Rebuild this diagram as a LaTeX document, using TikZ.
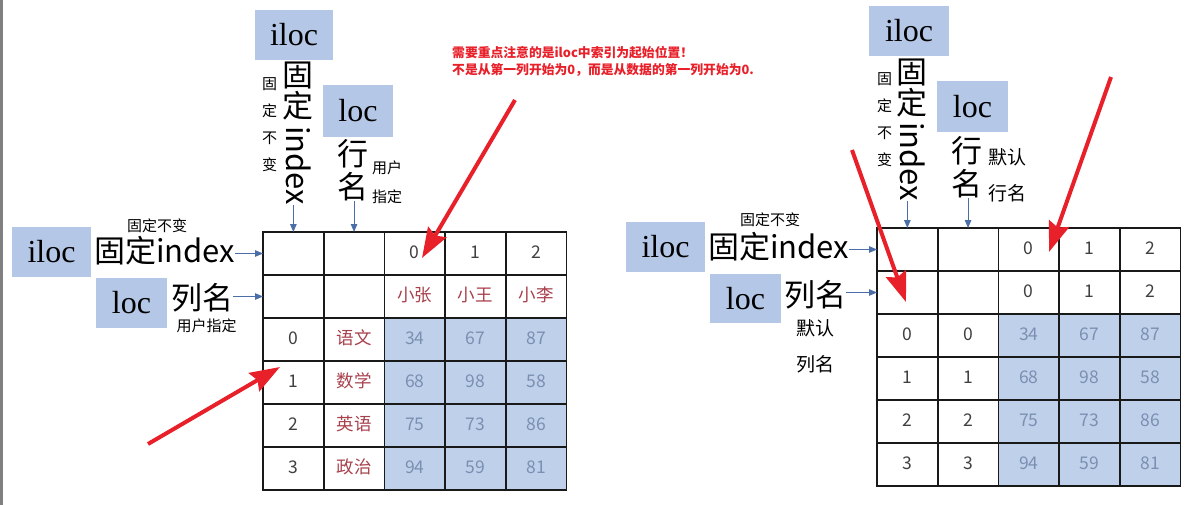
\documentclass[tikz,border=0pt]{standalone}
\usepackage{fontspec}
\setmainfont{Liberation Serif}
\newfontfamily\cjk{Noto Sans CJK SC}
\usepackage{tikz}
\usetikzlibrary{arrows.meta,positioning,matrix}
\definecolor{boxblue}{HTML}{B4C7E7}
\definecolor{cellblue}{HTML}{BFD1EA}
\definecolor{datagray}{HTML}{7A8FB2}
\definecolor{namered}{HTML}{A8404C}
\definecolor{ptrblue}{HTML}{4C6EA8}
\definecolor{markred}{HTML}{E8202A}
\definecolor{edgegray}{HTML}{808080}
\tikzset{
  ix/tag/.style={fill=boxblue, inner sep=0pt, minimum width=79pt, minimum height=50pt, font=\fontsize{32}{32}\selectfont},
  ix/big/.style={inner sep=0pt, align=center, font=\cjk\fontsize{31}{31}\selectfont},
  ix/bigstack/.style={inner sep=0pt, align=center, font=\cjk\fontsize{31}{33}\selectfont},
  ix/small/.style={inner sep=0pt, align=center, font=\cjk\fontsize{15}{27.3}\selectfont},
  ix/mid/.style={inner sep=0pt, align=center, font=\cjk\fontsize{19}{36}\selectfont},
  ix/warn/.style={inner sep=0pt, align=left, text=markred, font=\cjk\bfseries\fontsize{12.8}{17.5}\selectfont},
  ix/ptr/.style={-{Triangle[length=8pt,width=6.5pt]}, ptrblue, line width=1.1pt},
  ix/mark/.style={-{Stealth[length=30pt,width=21pt,inset=4pt]}, markred, line width=4pt},
  ix/table/.style={matrix of nodes, nodes in empty cells, inner sep=0pt, outer sep=0pt,
    column sep=-1.8pt, row sep=-1.8pt, anchor=north west,
    nodes={draw=black!90, line width=1.8pt, outer sep=0pt, inner sep=0pt, anchor=center,
      minimum width=60.7pt, minimum height=43pt, text height=13pt, text depth=3pt, text=black!75,
      font=\cjk\fontsize{17.5}{17.5}\selectfont}},
  ix/data/.style={fill=cellblue, text=datagray},
  ix/name/.style={text=namered}
}

\begin{document}
\begin{tikzpicture}[x=1pt, y=-1pt]
  \useasboundingbox (0,0) rectangle (1201,505);
  \fill[edgegray] (0,0) rectangle (2.5,505);

  % left table
  \matrix[ix/table] (ltab) at (262.1,231.1) {
    & & 0 & 1 & 2 \\
    & & |[ix/name]| 小张 & |[ix/name]| 小王 & |[ix/name]| 小李 \\
    0 & |[ix/name]| 语文 & |[ix/data]| 34 & |[ix/data]| 67 & |[ix/data]| 87 \\
    1 & |[ix/name]| 数学 & |[ix/data]| 68 & |[ix/data]| 98 & |[ix/data]| 58 \\
    2 & |[ix/name]| 英语 & |[ix/data]| 75 & |[ix/data]| 73 & |[ix/data]| 86 \\
    3 & |[ix/name]| 政治 & |[ix/data]| 94 & |[ix/data]| 59 & |[ix/data]| 81 \\
  };

  \node[ix/tag] (liloc) at (51.5,252) {iloc};
  \node[ix/big, anchor=west] (lfixidx) at (94,251) {固定index};
  \node[ix/small] (lfixnote) at (157,226) {固定不变};
  \node[ix/tag, minimum width=71pt] (lloc) at (131.5,303) {loc};
  \node[ix/big, anchor=west] (lcolname) at (171,298) {列名};
  \node[ix/small] (lusernote) at (206.5,326) {用户指定};

  \node[ix/tag, minimum width=78pt] (ltiloc) at (294,35) {iloc};
  \node[ix/small, anchor=north] (ltfixnote) at (269.5,77) {固\\定\\不\\变};
  \node[ix/big, anchor=north] (ltfix) at (297.5,62) {固\\定};
  \node[ix/big, rotate=-90, anchor=west] (ltindex) at (298.5,126) {index};
  \node[ix/tag, minimum width=70pt, minimum height=52pt] (ltloc) at (358,111) {loc};
  \node[ix/bigstack] (ltrowname) at (353,170) {行\\名};
  \node[ix/small, font=\cjk\fontsize{15}{29}\selectfont] (ltusernote) at (387,182) {用户\\指定};

  \draw[ix/ptr] (lfixidx.east |- ltab-1-1) -- (ltab-1-1.west);
  \draw[ix/ptr] (lcolname.east |- ltab-2-1) -- (ltab-2-1.west);
  \draw[ix/ptr] (ltab-1-1.north |- ltindex.east) -- (ltab-1-1.north);
  \draw[ix/ptr] (ltab-1-2.north |- ltrowname.south) -- (ltab-1-2.north);

  % note
  \node[ix/warn, anchor=north west] (note) at (452,46)
    {需要重点注意的是iloc中索引为起始位置！\\不是从第一列开始为0，而是从数据的第一列开始为0.};

  % right table
  \matrix[ix/table] (rtab) at (876.1,227.1) {
    & & 0 & 1 & 2 \\
    & & 0 & 1 & 2 \\
    0 & 0 & |[ix/data]| 34 & |[ix/data]| 67 & |[ix/data]| 87 \\
    1 & 1 & |[ix/data]| 68 & |[ix/data]| 98 & |[ix/data]| 58 \\
    2 & 2 & |[ix/data]| 75 & |[ix/data]| 73 & |[ix/data]| 86 \\
    3 & 3 & |[ix/data]| 94 & |[ix/data]| 59 & |[ix/data]| 81 \\
  };

  \node[ix/tag] (riloc) at (665.5,247) {iloc};
  \node[ix/big, anchor=west] (rfixidx) at (708,247) {固定index};
  \node[ix/small] (rfixnote) at (770,220) {固定不变};
  \node[ix/tag, minimum width=71pt, minimum height=49pt] (rloc) at (745.5,298.5) {loc};
  \node[ix/big, anchor=west] (rcolname) at (784,295) {列名};
  \node[ix/mid] (rdefnote) at (815.5,346) {默认\\列名};

  \node[ix/tag, minimum width=80pt] (rtiloc) at (909,31) {iloc};
  \node[ix/small, anchor=north] (rtfixnote) at (884.5,72) {固\\定\\不\\变};
  \node[ix/big, anchor=north] (rtfix) at (911.5,59) {固\\定};
  \node[ix/big, rotate=-90, anchor=west] (rtindex) at (912.5,122) {index};
  \node[ix/tag, minimum width=71pt, minimum height=51pt] (rtloc) at (972.5,106.5) {loc};
  \node[ix/bigstack] (rtrowname) at (967,167) {行\\名};
  \node[ix/mid] (rtdefnote) at (1007.5,175) {默认\\行名};

  \draw[ix/ptr] (rfixidx.east |- rtab-1-1) -- (rtab-1-1.west);
  \draw[ix/ptr] (rcolname.east |- rtab-2-1) -- (rtab-2-1.west);
  \draw[ix/ptr] (rtab-1-1.north |- rtindex.east) -- (rtab-1-1.north);
  \draw[ix/ptr] (rtab-1-2.north |- rtrowname.south) -- (rtab-1-2.north);

  % red marks
  \coordinate (lmark1) at (515,100);
  \coordinate (lmark2) at (148,444);
  \coordinate (rmark1) at (852,150);
  \coordinate (rmark2) at (1111,77);
  \coordinate (lhit1) at (422,258);
  \coordinate (lhit2) at (280,367);
  \coordinate (rhit1) at (906,302);
  \coordinate (rhit2) at (1049,252);
  \draw[ix/mark] (lmark1) -- (lhit1);
  \draw[ix/mark] (lmark2) -- (lhit2);
  \draw[ix/mark] (rmark1) -- (rhit1);
  \draw[ix/mark] (rmark2) -- (rhit2);
\end{tikzpicture}
\end{document}
